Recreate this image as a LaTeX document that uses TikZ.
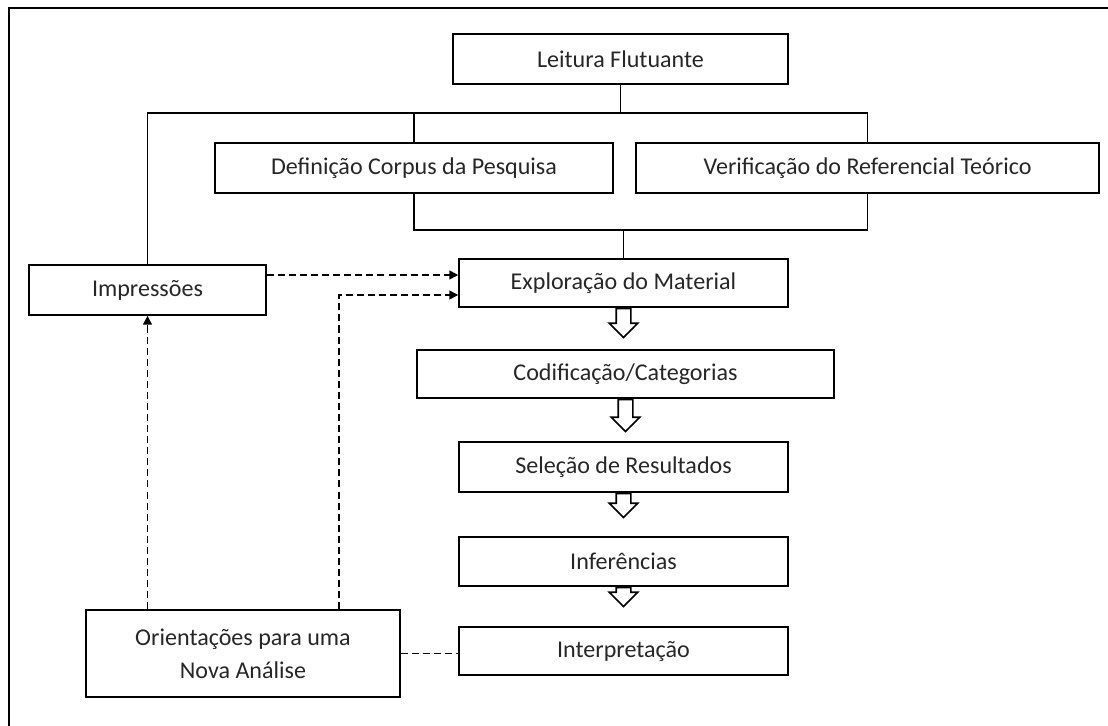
\documentclass[tikz,border=0pt]{standalone}
\usepackage{fontspec}
\setmainfont{Carlito}
\usetikzlibrary{arrows.meta,shapes.arrows}

\begin{document}
\begin{tikzpicture}[x=0.02cm,y=-0.02cm,every node/.style={font=\fontsize{13.7}{18.8}\selectfont,text=black!85},box/.style={draw,line width=0.9pt,minimum height=1cm,inner sep=2pt},line/.style={line width=0.9pt},dline/.style={line width=0.9pt,dash pattern=on 4pt off 2.3pt},darrow/.style={dline,-{Triangle[length=5pt,width=5pt]}},bigarrow/.style={draw,single arrow,line width=0.9pt,rotate=-90,anchor=tail,inner xsep=0pt,inner ysep=0.13cm,single arrow head extend=0.14cm}]
\useasboundingbox (0,0) rectangle (1108,726);
\draw[line] (9,726) |- (1108,8);
\node[box,minimum width=6.7cm] (lei) at (620.5,59) {Leitura Flutuante};
\node[box,minimum width=7.96cm] (def) at (414,168) {Definição Corpus da Pesquisa};
\node[box,minimum width=9.26cm] (ver) at (867.5,168) {Verificação do Referencial Teórico};
\node[box,minimum width=6.58cm,minimum height=0.96cm] (exp) at (623.5,283) {Exploração do Material};
\node[box,minimum width=8.34cm,minimum height=0.96cm] (cod) at (625.5,374) {Codificação/Categorias};
\node[box,minimum width=6.58cm] (sel) at (623.5,467) {Seleção de Resultados};
\node[box,minimum width=6.58cm,minimum height=0.98cm] (inf) at (623.5,561.5) {Inferências};
\node[box,minimum width=6.58cm,minimum height=0.96cm] (int) at (623.5,651) {Interpretação};
\node[box,minimum width=4.74cm] (imp) at (147.5,290) {Impressões};
\node[box,minimum width=6.28cm,minimum height=1.74cm,align=center] (ori) at (243,653.5) {Orientações para uma\\Nova Análise};
% bracket
\coordinate (jt) at (623,113);\coordinate (jb) at (623.5,230);
\draw[line] (lei.south) -- (lei.south |- jt);
\draw[line] (imp.north) |- (jt) -| (ver.north);\draw[line] (def.north) -- (def.north |- jt);
\draw[line] (def.south) |- (jb) -| (ver.south);\draw[line] (jb) -- (exp.north);
% feedback
\coordinate (e1) at ([yshift=3mm]imp.east);
\draw[darrow] (e1) -- (e1 -| exp.west);
\draw[darrow] ([xshift=1.92cm]ori.north) |- ([yshift=-2.4mm]exp.west);
\draw[darrow] (imp.south |- ori.north) -- (imp.south);
\draw[dline] (ori.east) -- (ori.east -| int.west);
\foreach \n/\l in {exp/0.58,cod/0.64,sel/0.48,inf/0.38} \node[bigarrow,minimum height=\l cm] at (\n.south) {};
\end{tikzpicture}
\end{document}
